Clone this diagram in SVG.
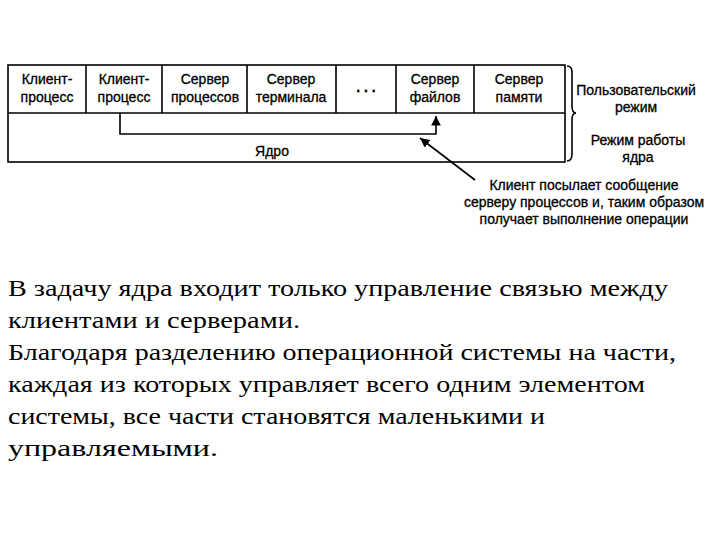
<svg xmlns="http://www.w3.org/2000/svg" width="720" height="540" viewBox="0 0 720 540">
<style>
.b{fill:none;stroke:#000;stroke-width:1.6}
.l{font-family:"Liberation Sans",Arial,sans-serif;font-size:14px;fill:#000;text-anchor:middle;stroke:#000;stroke-width:0.3}
.t{font-family:"Liberation Serif","Times New Roman",serif;font-size:24px;fill:#000}
</style>
<defs><marker id="a" viewBox="0 0 10 10" refX="10" refY="5" markerWidth="6" markerHeight="6" orient="auto"><path d="M0,0L10,5L0,10z" fill="#000"/></marker></defs>
<rect width="720" height="540" fill="#fff"/>
<g id="frame"><rect class="b" x="8" y="65" width="557" height="97"/><line class="b" x1="8" y1="113" x2="565" y2="113"/></g>
<g id="n1"><line class="b" x1="86" y1="65" x2="86" y2="113"/><text class="l" x="47" y="84">Клиент-</text><text class="l" x="47" y="102">процесс</text></g>
<g id="n2"><line class="b" x1="162" y1="65" x2="162" y2="113"/><text class="l" x="124" y="84">Клиент-</text><text class="l" x="124" y="102">процесс</text></g>
<g id="n3"><line class="b" x1="247" y1="65" x2="247" y2="113"/><text class="l" x="205" y="84">Сервер</text><text class="l" x="205" y="102">процессов</text></g>
<g id="n4"><line class="b" x1="336" y1="65" x2="336" y2="113"/><text class="l" x="291" y="84">Сервер</text><text class="l" x="291" y="102">терминала</text></g>
<g id="n5"><line class="b" x1="396" y1="65" x2="396" y2="113"/><text class="l" x="366" y="92" font-weight="bold">. . .</text></g>
<g id="n6"><line class="b" x1="474" y1="65" x2="474" y2="113"/><text class="l" x="435" y="84">Сервер</text><text class="l" x="435" y="102">файлов</text></g>
<g id="n7"><text class="l" x="519" y="84">Сервер</text><text class="l" x="519" y="102">памяти</text></g>
<g id="kernel"><text class="l" x="272" y="156">Ядро</text></g>
<g id="connectors">
<path class="b" d="M120,113V134H436V116" marker-end="url(#a)"/>
<line class="b" x1="475" y1="180" x2="420" y2="138" marker-end="url(#a)"/>
<path class="b" stroke-width="1.2" d="M567,66q5,0 5,6v34q0,7 4,7M576,113q-4,0 -4,7v34q0,7 -5,7"/>
</g>
<g id="labels">
<text class="l" x="636" y="95">Пользовательский</text><text class="l" x="636" y="112">режим</text>
<text class="l" x="638" y="145">Режим работы</text><text class="l" x="638" y="162">ядра</text>
<text class="l" x="584" y="190">Клиент посылает сообщение</text>
<text class="l" x="584" y="207">серверу процессов и, таким образом</text>
<text class="l" x="584" y="224">получает выполнение операции</text>
</g>
<g id="body">
<text class="t" x="8" y="296" textLength="660" lengthAdjust="spacingAndGlyphs">В задачу ядра входит только управление связью между</text>
<text class="t" x="8" y="328" textLength="292" lengthAdjust="spacingAndGlyphs">клиентами и серверами.</text>
<text class="t" x="8" y="360" textLength="668" lengthAdjust="spacingAndGlyphs">Благодаря разделению операционной системы на части,</text>
<text class="t" x="8" y="392" textLength="637" lengthAdjust="spacingAndGlyphs">каждая из которых управляет всего одним элементом</text>
<text class="t" x="8" y="424" textLength="537" lengthAdjust="spacingAndGlyphs">системы, все части становятся маленькими и</text>
<text class="t" x="8" y="456" textLength="210" lengthAdjust="spacingAndGlyphs">управляемыми.</text>
</g>
</svg>
